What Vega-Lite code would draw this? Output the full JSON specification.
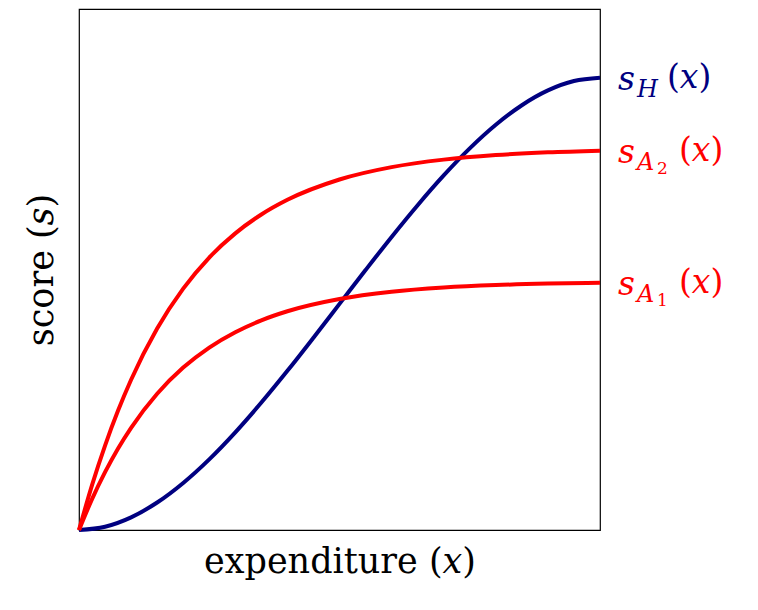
{
  "$schema": "https://vega.github.io/schema/vega-lite/v6.json",
  "width": 521,
  "height": 521,
  "autosize": "none",
  "padding": {"left": 79, "top": 9, "right": 158, "bottom": 80},
  "background": "white",
  "config": {
    "view": {"stroke": "black", "strokeWidth": 1.2},
    "axis": {"titleFont": "DejaVu Serif", "titleFontSize": 35, "titleFontWeight": "normal", "titleColor": "black"}
  },
  "datasets": {
    "curves": [
      {"series": "H", "x": 0, "y": 0},
      {"series": "H", "x": 0.5, "y": 0.063},
      {"series": "H", "x": 1.0, "y": 0.243},
      {"series": "H", "x": 1.5, "y": 0.527},
      {"series": "H", "x": 2.0, "y": 0.903},
      {"series": "H", "x": 2.5, "y": 1.356},
      {"series": "H", "x": 3.0, "y": 1.875},
      {"series": "H", "x": 3.5, "y": 2.446},
      {"series": "H", "x": 4.0, "y": 3.055},
      {"series": "H", "x": 4.5, "y": 3.691},
      {"series": "H", "x": 5.0, "y": 4.34},
      {"series": "H", "x": 5.5, "y": 4.989},
      {"series": "H", "x": 6.0, "y": 5.625},
      {"series": "H", "x": 6.5, "y": 6.234},
      {"series": "H", "x": 7.0, "y": 6.805},
      {"series": "H", "x": 7.5, "y": 7.324},
      {"series": "H", "x": 8.0, "y": 7.777},
      {"series": "H", "x": 8.5, "y": 8.153},
      {"series": "H", "x": 9.0, "y": 8.437},
      {"series": "H", "x": 9.5, "y": 8.617},
      {"series": "H", "x": 10, "y": 8.68},
      {"series": "A2", "x": 0, "y": 0},
      {"series": "A2", "x": 0.25, "y": 0.861},
      {"series": "A2", "x": 0.5, "y": 1.621},
      {"series": "A2", "x": 0.75, "y": 2.292},
      {"series": "A2", "x": 1.0, "y": 2.884},
      {"series": "A2", "x": 1.5, "y": 3.867},
      {"series": "A2", "x": 2.0, "y": 4.633},
      {"series": "A2", "x": 2.5, "y": 5.23},
      {"series": "A2", "x": 3.0, "y": 5.694},
      {"series": "A2", "x": 3.5, "y": 6.056},
      {"series": "A2", "x": 4.0, "y": 6.338},
      {"series": "A2", "x": 5.0, "y": 6.728},
      {"series": "A2", "x": 6.0, "y": 6.965},
      {"series": "A2", "x": 7.0, "y": 7.109},
      {"series": "A2", "x": 8.0, "y": 7.196},
      {"series": "A2", "x": 9.0, "y": 7.249},
      {"series": "A2", "x": 10, "y": 7.281},
      {"series": "A1", "x": 0, "y": 0},
      {"series": "A1", "x": 0.25, "y": 0.592},
      {"series": "A1", "x": 0.5, "y": 1.11},
      {"series": "A1", "x": 0.75, "y": 1.565},
      {"series": "A1", "x": 1.0, "y": 1.962},
      {"series": "A1", "x": 1.5, "y": 2.616},
      {"series": "A1", "x": 2.0, "y": 3.117},
      {"series": "A1", "x": 2.5, "y": 3.502},
      {"series": "A1", "x": 3.0, "y": 3.797},
      {"series": "A1", "x": 3.5, "y": 4.024},
      {"series": "A1", "x": 4.0, "y": 4.198},
      {"series": "A1", "x": 5.0, "y": 4.433},
      {"series": "A1", "x": 6.0, "y": 4.572},
      {"series": "A1", "x": 7.0, "y": 4.653},
      {"series": "A1", "x": 8.0, "y": 4.701},
      {"series": "A1", "x": 9.0, "y": 4.729},
      {"series": "A1", "x": 10, "y": 4.746}
    ],
    "labels": [
      {"series": "H", "sub": "H", "subsub": "", "x": 10, "y": 8.68},
      {"series": "A2", "sub": "A", "subsub": "2", "x": 10, "y": 7.281},
      {"series": "A1", "sub": "A", "subsub": "1", "x": 10, "y": 4.746}
    ]
  },
  "encoding": {
    "x": {"field": "x", "type": "quantitative", "scale": {"domain": [0, 10], "nice": false}, "axis": {"title": "expenditure (𝑥)", "labels": false, "ticks": false, "domain": false, "grid": false, "titlePadding": 14}},
    "y": {"field": "y", "type": "quantitative", "scale": {"domain": [0, 10], "nice": false}, "axis": {"title": "score (𝑠)", "labels": false, "ticks": false, "domain": false, "grid": false, "titlePadding": 20}},
    "color": {"field": "series", "type": "nominal", "scale": {"domain": ["H", "A2", "A1"], "range": ["#000080", "#ff0000", "#ff0000"]}, "legend": null}
  },
  "layer": [
    {
      "data": {"name": "curves"},
      "mark": {"type": "line", "strokeWidth": 4, "interpolate": "monotone", "clip": false}
    },
    {
      "data": {"name": "labels"},
      "mark": {"type": "text", "align": "left", "baseline": "middle", "dx": 18, "dy": 2, "font": "DejaVu Serif", "fontStyle": "italic", "fontSize": 33},
      "encoding": {"text": {"value": "s"}}
    },
    {
      "data": {"name": "labels"},
      "mark": {"type": "text", "align": "left", "baseline": "middle", "dx": 37, "dy": 12, "font": "DejaVu Serif", "fontStyle": "italic", "fontSize": 24},
      "encoding": {"text": {"field": "sub"}}
    },
    {
      "data": {"name": "labels"},
      "transform": [{"filter": "datum.series !== 'H'"}],
      "mark": {"type": "text", "align": "left", "baseline": "middle", "dx": 57, "dy": 18, "font": "DejaVu Serif", "fontSize": 17},
      "encoding": {"text": {"field": "subsub"}}
    },
    {
      "data": {"name": "labels"},
      "transform": [{"filter": "datum.series === 'H'"}],
      "mark": {"type": "text", "align": "left", "baseline": "middle", "dx": 67, "dy": 0, "font": "DejaVu Serif", "fontSize": 33},
      "encoding": {"text": {"value": "(𝑥)"}}
    },
    {
      "data": {"name": "labels"},
      "transform": [{"filter": "datum.series !== 'H'"}],
      "mark": {"type": "text", "align": "left", "baseline": "middle", "dx": 79, "dy": 0, "font": "DejaVu Serif", "fontSize": 33},
      "encoding": {"text": {"value": "(𝑥)"}}
    }
  ]
}
